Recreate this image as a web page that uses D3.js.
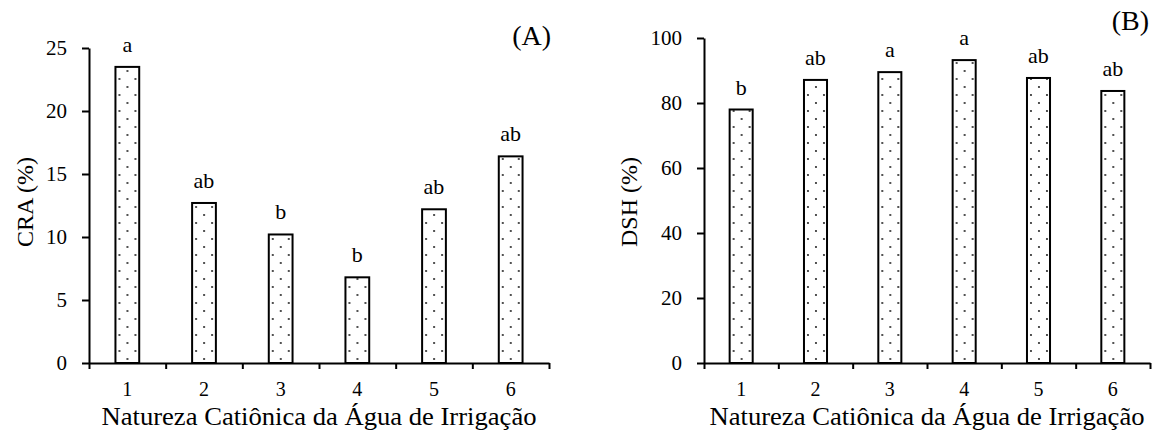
<!DOCTYPE html>
<html>
<head>
<meta charset="utf-8">
<script src="https://cdn.jsdelivr.net/npm/d3@7"></script>
<style>
  body { margin: 0; background: #fff; }
  svg { display: block; }
  text { font-family: "Liberation Serif", "Times New Roman", serif; fill: #000; }
  .axis path, .axis line { stroke: #000; stroke-width: 2; }
  .axis text { font-size: 21px; font-family: "Liberation Serif", serif; }
</style>
</head>
<body>
<svg id="chart" width="1152" height="430"></svg>
<script>
// categories and values
const categories = ["1", "2", "3", "4", "5", "6"];
const craValues = [23.5, 12.7, 10.2, 6.8, 12.2, 16.4];
const craLetters = ["a", "ab", "b", "b", "ab", "ab"];
const dshValues = [78, 87.1, 89.5, 93.2, 87.7, 83.7];
const dshLetters = ["b", "ab", "a", "a", "ab", "ab"];
const craTicks = [0, 5, 10, 15, 20, 25];
const dshTicks = [0, 20, 40, 60, 80, 100];

const xTitle = "Natureza Catiônica da Água de Irrigação";

let svg = d3.select("#chart");
let defs = svg.append("defs");

function panel(opts) {
  let g = svg.append("g");

  let x = d3.scaleBand()
      .domain(categories)
      .range([opts.left, opts.right])
      .padding(0);

  // tick marks sit on the band edges
  let xEdge = d3.scaleLinear()
      .domain([0, categories.length])
      .range([opts.left, opts.right]);

  let y = d3.scaleLinear()
      .domain([0, opts.max])
      .range([opts.bottom, opts.top]);

  let barW = x.bandwidth() * 0.31;

  let data = categories.map((c, i) => ({ cat: c, v: opts.values[i], lab: opts.letters[i] }));

  // one dot pattern per bar so dots line up with the bar edge
  data.forEach((d, i) => {
    let p = defs.append("pattern")
        .attr("id", opts.id + "dots" + i)
        .attr("patternUnits", "userSpaceOnUse")
        .attr("width", 16)
        .attr("height", 16)
        .attr("x", x(d.cat) + (x.bandwidth() - barW) / 2)
        .attr("y", opts.bottom);
    p.append("rect").attr("width", 16).attr("height", 16).attr("fill", "#fff");
    p.append("circle").attr("cx", 4).attr("cy", 4).attr("r", 0.9).attr("fill", "#000");
    p.append("circle").attr("cx", 12).attr("cy", 12).attr("r", 0.9).attr("fill", "#000");
  });

  g.selectAll(".bar")
      .data(data)
    .enter().append("rect")
      .attr("class", "bar")
      .attr("x", d => x(d.cat) + (x.bandwidth() - barW) / 2)
      .attr("y", d => y(d.v))
      .attr("width", barW)
      .attr("height", d => y(0) - y(d.v))
      .attr("fill", (d, i) => "url(#" + opts.id + "dots" + i + ")")
      .attr("stroke", "#000")
      .attr("stroke-width", 2);

  // significance letters
  g.selectAll(".lab")
      .data(data)
    .enter().append("text")
      .attr("x", d => x(d.cat) + x.bandwidth() / 2)
      .attr("y", d => y(d.v) - 15)
      .attr("text-anchor", "middle")
      .style("font-size", "22px")
      .text(d => d.lab);

  // y axis
  g.append("g")
      .attr("class", "axis")
      .attr("transform", "translate(" + opts.left + ",0)")
      .call(d3.axisLeft(y).tickValues(opts.ticks).tickSize(7).tickSizeOuter(0).tickPadding(15));

  // x axis: edge ticks
  g.append("g")
      .attr("class", "axis")
      .attr("transform", "translate(0," + opts.bottom + ")")
      .call(d3.axisBottom(xEdge).ticks(6).tickSize(6).tickSizeOuter(0).tickFormat(""));

  // x axis: category labels
  g.append("g")
      .attr("class", "axis")
      .attr("transform", "translate(0," + opts.bottom + ")")
      .call(d3.axisBottom(x).tickSize(0).tickPadding(19))
      .call(s => s.select(".domain").remove())
      .call(s => s.selectAll("text").style("font-size", "20px"));

  g.append("text")
      .attr("x", (opts.left + opts.right) / 2)
      .attr("y", 425)
      .attr("text-anchor", "middle")
      .attr("textLength", 435)
      .attr("lengthAdjust", "spacingAndGlyphs")
      .style("font-size", "25px")
      .text(xTitle);

  g.append("text")
      .attr("transform", "translate(" + opts.yLabX + "," + 202 + ") rotate(-90)")
      .attr("text-anchor", "middle")
      .style("font-size", "24px")
      .text(opts.yLabel);

  g.append("text")
      .attr("x", opts.tagX)
      .attr("y", opts.tagY)
      .attr("text-anchor", "end")
      .style("font-size", "28px")
      .text(opts.tag);
}

panel({ id: "a", left: 89, right: 549, top: 48, bottom: 363, max: 25,
        values: craValues, letters: craLetters, ticks: craTicks,
        yLabel: "CRA (%)", yLabX: 33, tag: "(A)", tagX: 551, tagY: 45 });

panel({ id: "b", left: 704, right: 1150, top: 38, bottom: 363, max: 100,
        values: dshValues, letters: dshLetters, ticks: dshTicks,
        yLabel: "DSH (%)", yLabX: 637, tag: "(B)", tagX: 1149, tagY: 30 });
</script>
</body>
</html>
